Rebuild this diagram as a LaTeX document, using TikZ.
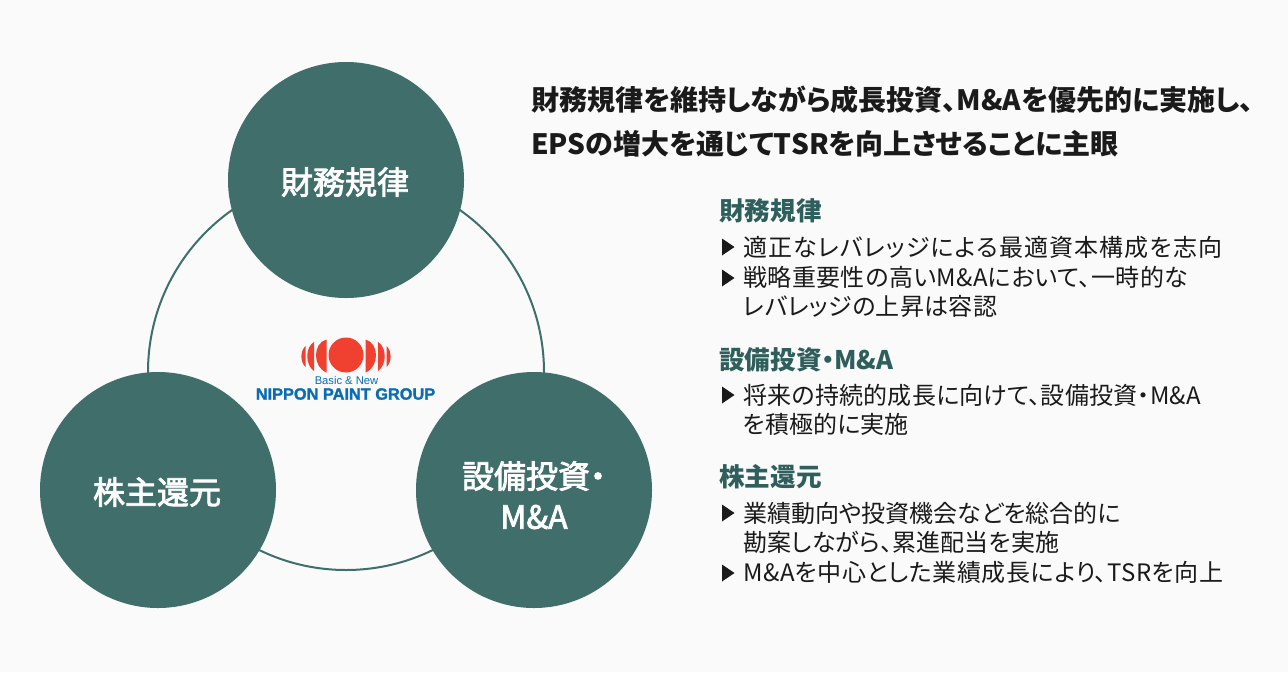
\documentclass[tikz,border=0pt]{standalone}
\usepackage{fontspec}
\setmainfont{Noto Sans CJK JP}[RawFeature={+palt}]
\newfontfamily\latinfont{Liberation Sans}
\newfontfamily\logofont{Liberation Sans Bold}[FakeBold=1.5]
\newfontfamily\medf{Noto Sans CJK JP}[RawFeature={+palt},FakeBold=2.5]
\definecolor{bgc}{HTML}{FAFAFA}
\definecolor{teal1}{HTML}{406E6B}
\definecolor{teal2}{HTML}{2F5F5C}
\definecolor{ink}{HTML}{1A1A1A}
\definecolor{logored}{HTML}{F04030}
\definecolor{logoblue}{HTML}{0A6CB5}
\newcommand{\fs}[1]{\fontsize{#1}{#1}\selectfont}
\newcommand{\ls}[1]{\addfontfeatures{LetterSpace=#1}}
\tikzset{
 bigc/.style={circle,fill=teal1,minimum size=236*0.75pt,inner sep=0pt},
 bigt/.style={inner sep=0pt,text=white,font=\medf\fs{24}},
 ringc/.style={circle,draw=teal1,line width=1.5pt,minimum size=396*0.75pt,inner sep=0pt},
 titlet/.style={anchor=west,inner sep=0pt,text=ink,font=\fs{21}\bfseries},
 headt/.style={anchor=west,inner sep=0pt,text=teal2,font=\fs{19.2}\bfseries},
 bodyt/.style={anchor=west,inner sep=0pt,text=ink,font=\fs{18}},
 bul/.pic={\fill[ink] (-6,-8.5) -- (6.5,0) -- (-6,8.5) -- cycle;},
}
\begin{document}
\begin{tikzpicture}[x=0.75pt,y=-0.75pt]
\fill[bgc] (0,0) rectangle (1288,672);
\useasboundingbox (0,0) rectangle (1288,672);
\node[ringc] (ring) at (346,372) {};
\node[bigc] (top) at (346,180) {};
\node[bigc] (left) at (158,490) {};
\node[bigc] (right) at (534,490) {};
\node[bigt] (toplabel) at (345,182) {財務規律};
\node[bigt] (leftlabel) at (157,492) {株主還元};
\node[bigt] (rightlabel1) at (534,476) {設備投資・};
\node[bigt] (rightlabel2) at (534,517) {M\&A};
% logo
\fill[logored] (346,355) circle (17.5);
\foreach \s in {1,-1}{
 \fill[logored] (346-\s*19.5,339.5) .. controls (346-\s*33.5,343) and (346-\s*33.5,367) .. (346-\s*19.5,372.5) -- cycle;
 \fill[logored] (346-\s*32,342) .. controls (346-\s*41,347) and (346-\s*41,365) .. (346-\s*32,371) -- cycle;
 \fill[logored] (346-\s*40.5,346) .. controls (346-\s*46,351) and (346-\s*46,362) .. (346-\s*40.5,367) -- cycle;
}
\node[inner sep=0pt,text=logoblue,font=\latinfont\fs{8.4}] (l1) at (346.5,380.5) {Basic \& New};
\node[inner sep=0pt,text=logoblue,font=\logofont\fs{12.25}] (l2) at (345.5,394) {NIPPON PAINT GROUP};
% title
\node[titlet] (t1) at (531,100) {財務規律を維持しながら成長投資、M\&Aを優先的に実施し、};
\node[titlet] (t2) at (531,144) {EPSの増大を通じてTSRを向上させることに主眼};
% section 1
\node[headt] (h1) at (719,211) {財務規律};
\pic at (728,247) {bul};
\node[bodyt] (x11) at (743,247) {\ls{4.6}適正なレバレッジによる最適資本構成を志向};
\pic at (728,278) {bul};
\node[bodyt] (x12) at (743,277) {\ls{1.8}戦略重要性の高いM\&Aにおいて、一時的な};
\node[bodyt] (x13) at (743,306) {\ls{1.5}レバレッジの上昇は容認};
% section 2
\node[headt] (h2) at (719,360) {設備投資・M\&A};
\pic at (728,395) {bul};
\node[bodyt] (x21) at (743,395) {\ls{1}将来の持続的成長に向けて、設備投資・M\&A};
\node[bodyt] (x22) at (743,424) {を積極的に実施};
% section 3
\node[headt] (h3) at (719,477) {株主還元};
\pic at (728,513) {bul};
\node[bodyt] (x31) at (743,513) {業績動向や投資機会などを総合的に};
\node[bodyt] (x32) at (743,542) {\ls{0.6}勘案しながら、累進配当を実施};
\pic at (728,573) {bul};
\node[bodyt] (x33) at (743,572) {\ls{2.2}M\&Aを中心とした業績成長により、TSRを向上};
\end{tikzpicture}
\end{document}
